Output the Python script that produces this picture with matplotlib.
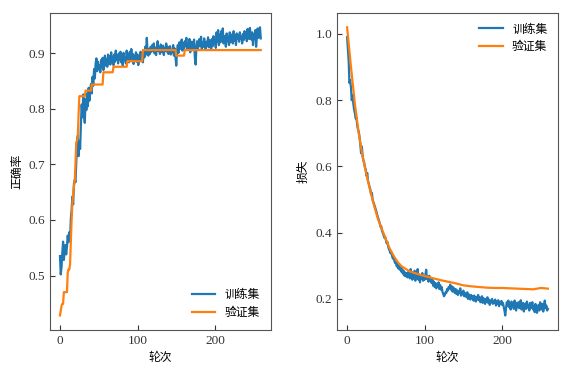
import numpy as np
import matplotlib
matplotlib.use('Agg')
import matplotlib.pyplot as plt

plt.rcParams['font.family'] = ['Liberation Serif', 'Noto Sans CJK SC']
plt.rcParams['axes.unicode_minus'] = False

# training accuracy, one value per epoch (0..259)
train_acc = [
    0.535, 0.502, 0.515, 0.540, 0.561, 0.528, 0.545, 0.555, 0.538, 0.552,
    0.572, 0.560, 0.578, 0.565, 0.602, 0.618, 0.642, 0.628, 0.665, 0.672,
    0.668, 0.705, 0.738, 0.752, 0.715, 0.742, 0.728, 0.772, 0.808, 0.785,
    0.826, 0.792, 0.775, 0.818, 0.798, 0.828, 0.805, 0.838, 0.815, 0.832,
    0.845, 0.828, 0.858, 0.842, 0.872, 0.855, 0.882, 0.891, 0.868, 0.885,
    0.872, 0.878, 0.866, 0.888, 0.875, 0.892, 0.870, 0.884, 0.896, 0.878,
    0.890, 0.876, 0.898, 0.882, 0.895, 0.880, 0.902, 0.886, 0.894, 0.879,
    0.898, 0.885, 0.905, 0.889, 0.897, 0.882, 0.900, 0.888, 0.903, 0.884,
    0.896, 0.878, 0.901, 0.889, 0.893, 0.882, 0.905, 0.890, 0.898, 0.884,
    0.903, 0.887, 0.908, 0.892, 0.899, 0.881, 0.896, 0.888, 0.902, 0.885,
    0.898, 0.879, 0.894, 0.886, 0.903, 0.890, 0.900, 0.884, 0.905, 0.893,
    0.912, 0.898, 0.928, 0.902, 0.896, 0.908, 0.899, 0.912, 0.903, 0.915,
    0.905, 0.918, 0.900, 0.910, 0.897, 0.913, 0.922, 0.904, 0.911, 0.899,
    0.916, 0.907, 0.902, 0.914, 0.897, 0.909, 0.905, 0.918, 0.903, 0.912,
    0.899, 0.908, 0.913, 0.898, 0.906, 0.902, 0.915, 0.896, 0.909, 0.893,
    0.878, 0.904, 0.915, 0.901, 0.920, 0.908, 0.912, 0.925, 0.905, 0.918,
    0.909, 0.922, 0.913, 0.928, 0.906, 0.918, 0.911, 0.926, 0.902, 0.915,
    0.921, 0.908, 0.917, 0.925, 0.892, 0.880, 0.912, 0.922, 0.909, 0.918,
    0.926, 0.913, 0.930, 0.908, 0.919, 0.912, 0.927, 0.915, 0.906, 0.921,
    0.914, 0.929, 0.911, 0.924, 0.917, 0.908, 0.926, 0.913, 0.931, 0.918,
    0.925, 0.910, 0.938, 0.921, 0.942, 0.915, 0.934, 0.920, 0.940, 0.924,
    0.945, 0.918, 0.931, 0.925, 0.912, 0.936, 0.922, 0.930, 0.915, 0.938,
    0.920, 0.934, 0.926, 0.918, 0.940, 0.923, 0.932, 0.915, 0.936, 0.927,
    0.933, 0.921, 0.938, 0.926, 0.930, 0.918, 0.935, 0.924, 0.940, 0.929,
    0.936, 0.922, 0.944, 0.930, 0.926, 0.946, 0.932, 0.925, 0.938, 0.915,
    0.934, 0.926, 0.942, 0.912, 0.930, 0.945, 0.928, 0.936, 0.947, 0.927,
]

# validation accuracy: epoch where a new value starts, and that value
val_acc_start = [0, 1, 2, 3, 5, 10, 11, 13, 14, 15, 16, 17, 18, 19, 20, 21,
                 22, 23, 24, 25, 33, 41, 56, 69, 87, 107, 150, 161]
val_acc_level = [0.428, 0.436, 0.445, 0.449, 0.470, 0.505, 0.511, 0.520,
                 0.560, 0.600, 0.630, 0.648, 0.660, 0.670, 0.700, 0.740,
                 0.742, 0.750, 0.790, 0.823, 0.833, 0.844, 0.866, 0.876,
                 0.886, 0.906, 0.896, 0.906]

# training loss, one value per epoch
train_loss = [
    0.990, 0.955, 0.920, 0.852, 0.860, 0.838, 0.800, 0.815, 0.790, 0.772,
    0.762, 0.745, 0.748, 0.725, 0.712, 0.705, 0.690, 0.668, 0.640, 0.660,
    0.632, 0.618, 0.612, 0.598, 0.590, 0.572, 0.580, 0.555, 0.548, 0.538,
    0.530, 0.515, 0.520, 0.498, 0.492, 0.485, 0.478, 0.470, 0.462, 0.452,
    0.445, 0.438, 0.430, 0.418, 0.420, 0.405, 0.400, 0.392, 0.385, 0.388,
    0.378, 0.368, 0.372, 0.358, 0.350, 0.345, 0.338, 0.342, 0.330, 0.322,
    0.325, 0.315, 0.308, 0.312, 0.298, 0.305, 0.292, 0.300, 0.288, 0.295,
    0.282, 0.290, 0.276, 0.285, 0.270, 0.280, 0.268, 0.278, 0.265, 0.282,
    0.272, 0.262, 0.290, 0.268, 0.258, 0.280, 0.262, 0.285, 0.255, 0.275,
    0.265, 0.290, 0.258, 0.272, 0.250, 0.268, 0.262, 0.278, 0.255, 0.266,
    0.258, 0.272, 0.288, 0.260, 0.266, 0.252, 0.270, 0.255, 0.262, 0.248,
    0.258, 0.240, 0.252, 0.236, 0.248, 0.232, 0.245, 0.238, 0.250, 0.230,
    0.242, 0.228, 0.236, 0.222, 0.215, 0.208, 0.212, 0.220, 0.218, 0.230,
    0.225, 0.236, 0.232, 0.243, 0.228, 0.238, 0.222, 0.235, 0.225, 0.218,
    0.230, 0.215, 0.226, 0.212, 0.222, 0.218, 0.232, 0.210, 0.220, 0.214,
    0.225, 0.208, 0.218, 0.212, 0.205, 0.220, 0.200, 0.214, 0.206, 0.198,
    0.212, 0.202, 0.208, 0.195, 0.210, 0.200, 0.192, 0.206, 0.198, 0.212,
    0.196, 0.205, 0.190, 0.200, 0.208, 0.188, 0.202, 0.195, 0.185, 0.200,
    0.192, 0.205, 0.188, 0.198, 0.182, 0.195, 0.190, 0.200, 0.185, 0.193,
    0.188, 0.198, 0.180, 0.192, 0.185, 0.196, 0.178, 0.190, 0.186, 0.194,
    0.182, 0.188, 0.176, 0.165, 0.150, 0.172, 0.190, 0.180, 0.195, 0.175,
    0.185, 0.168, 0.192, 0.178, 0.186, 0.170, 0.195, 0.180, 0.165, 0.188,
    0.175, 0.190, 0.172, 0.183, 0.196, 0.168, 0.180, 0.188, 0.162, 0.178,
    0.186, 0.170, 0.192, 0.175, 0.182, 0.165, 0.188, 0.172, 0.180, 0.190,
    0.168, 0.178, 0.160, 0.185, 0.172, 0.158, 0.176, 0.182, 0.165, 0.190,
    0.175, 0.168, 0.185, 0.162, 0.178, 0.195, 0.172, 0.180, 0.165, 0.170,
]

# validation loss, read at a few epochs (smooth curve)
val_loss_epoch = [0, 5, 10, 15, 20, 25, 30, 35, 40, 45, 50, 55, 60, 65, 70,
                  80, 90, 100, 110, 120, 130, 140, 150, 160, 170, 180, 190,
                  200, 210, 220, 230, 240, 245, 250, 255, 259]
val_loss = [1.020, 0.900, 0.790, 0.700, 0.630, 0.575, 0.525, 0.480, 0.440,
            0.410, 0.380, 0.352, 0.330, 0.312, 0.299, 0.284, 0.276, 0.269,
            0.263, 0.257, 0.252, 0.247, 0.241, 0.238, 0.236, 0.234, 0.233,
            0.233, 0.232, 0.231, 0.230, 0.229, 0.231, 0.233, 0.232, 0.231]

epochs = np.arange(len(train_acc))
run_len = np.diff(val_acc_start + [len(train_acc)])
val_acc = np.repeat(val_acc_level, run_len)

blue = '#1f77b4'
orange = '#ff7f0e'

fig, (ax1, ax2) = plt.subplots(1, 2, figsize=(5.74, 3.69), dpi=100)
fig.subplots_adjust(left=0.087, right=0.972, bottom=0.106, top=0.965, wspace=0.30)

ax1.plot(epochs, train_acc, color=blue, lw=1.6, label='训练集')
ax1.plot(epochs, val_acc, color=orange, lw=1.6, label='验证集')
ax1.set_ylabel('正确率', fontsize=8.5)
ax1.set_xlabel('轮次', fontsize=8.5)
ax1.legend(loc='lower right', frameon=False, fontsize=8.5, handlelength=2.0)

ax2.plot(epochs, train_loss, color=blue, lw=1.6, label='训练集')
ax2.plot(val_loss_epoch, val_loss, color=orange, lw=1.6, label='验证集')
ax2.set_ylabel('损失', fontsize=8.5)
ax2.set_xlabel('轮次', fontsize=8.5)
ax2.legend(loc='upper right', frameon=False, fontsize=8.5, handlelength=2.0)

for ax in (ax1, ax2):
    ax.set_xticks([0, 100, 200])
    ax.tick_params(direction='in', labelsize=9.5, colors='#333333', length=3.5)
    for s in ax.spines.values():
        s.set_color('#555555')

ax2.set_yticks([0.2, 0.4, 0.6, 0.8, 1.0])

plt.savefig('out.png', dpi=100)
